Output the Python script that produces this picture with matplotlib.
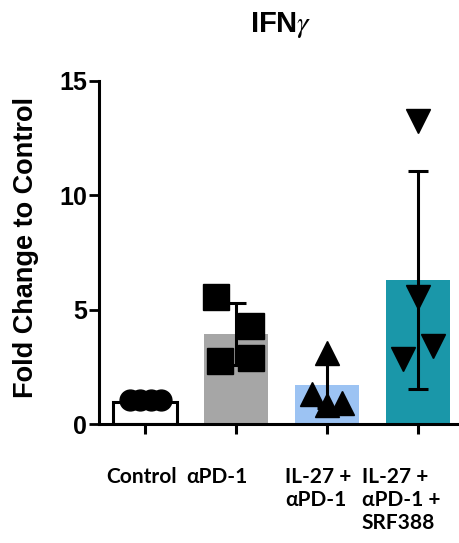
import matplotlib
matplotlib.use("Agg")
import matplotlib.pyplot as plt

# ---- data ----
groups = ["Control", "αPD-1", "IL-27 +\nαPD-1", "IL-27 +\nαPD-1 +\nSRF388"]
means = [0.98, 3.93, 1.70, 6.29]
sds = [0.05, 1.35, 0.98, 4.78]
points = [
    [1.05, 1.05, 1.05, 1.05],
    [5.55, 4.30, 2.90, 2.75],
    [3.12, 1.31, 0.83, 0.93],
    [13.25, 5.55, 2.84, 3.40],
]
point_offsets = [
    [-0.17, -0.06, 0.07, 0.18],
    [-0.22, 0.16, 0.16, -0.18],
    [0.0, -0.165, 0.0, 0.165],
    [0.0, 0.0, -0.165, 0.165],
]
yticks = [0, 5, 10, 15]

bar_colors = ["white", "#a6a6a6", "#9cc3f3", "#1a97a9"]
markers = ["o", "s", "^", "v"]
msizes = [15, 19, 17, 17]

fig = plt.figure(figsize=(4.6, 5.43), dpi=100)
ax = fig.add_axes([99 / 460, 1 - 424 / 543, 1 - 99 / 460, (424 - 81) / 543])

xs = list(range(len(groups)))
ax.bar(xs, means, width=0.70, color=bar_colors, edgecolor=["black", "none", "none", "none"],
       linewidth=2.2, zorder=1)
ax.errorbar(xs, means, yerr=sds, fmt="none", ecolor="black", elinewidth=2.2,
            capsize=7, capthick=2.2, zorder=2)
for i, (pts, offs) in enumerate(zip(points, point_offsets)):
    ax.plot([xs[i] + o for o in offs], pts, linestyle="none", marker=markers[i],
            markersize=msizes[i], color="black", zorder=3, clip_on=False)

ax.set_xlim(-0.505, 3.46)
ax.set_ylim(0, 15)
ax.set_yticks(yticks)
ax.set_yticklabels([str(t) for t in yticks], fontfamily="Liberation Sans",
                   fontweight="bold", fontsize=18)
ax.set_xticks(xs)
ax.set_xticklabels([])
for s in ["top", "right"]:
    ax.spines[s].set_visible(False)
for s in ["left", "bottom"]:
    ax.spines[s].set_linewidth(2.2)
ax.tick_params(axis="y", length=7.2, width=2.0, pad=1.5)
ax.tick_params(axis="x", length=7.2, width=2.2)

label_shift = [-0.42, -0.55, -0.46, -0.62]
for i, g in enumerate(groups):
    ax.text(xs[i] + label_shift[i], -0.125, g, transform=ax.get_xaxis_transform(),
            ha="left", va="top", fontfamily="Lato", fontweight="bold", fontsize=15,
            linespacing=1.18)

fig.text(0.057, 1 - 247 / 543, "Fold Change to Control", rotation=90, ha="center",
         va="center", fontfamily="Liberation Sans", fontweight="bold", fontsize=19.5)
plt.rcParams["mathtext.fontset"] = "stix"
fig.text(281 / 460, 1 - 32 / 543, r"IFN$\gamma$", ha="center", va="baseline",
         fontfamily="Liberation Sans", fontweight="bold", fontsize=21)

fig.savefig("out.png", dpi=100)
